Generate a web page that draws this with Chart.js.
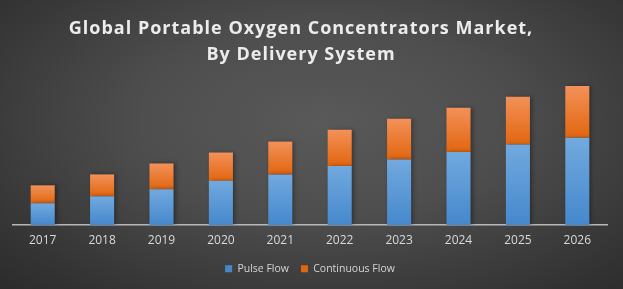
<!DOCTYPE html>
<html lang="en">
<head>
    <meta charset="UTF-8">
    <title>Portable Oxygen Concentrators Market</title>
    <script src="https://cdn.jsdelivr.net/npm/chart.js"></script>
    <style>
        html, body { margin: 0; padding: 0; }
        body {
            width: 623px;
            height: 289px;
            overflow: hidden;
            background: radial-gradient(ellipse at 52% 42%, #595959 0%, #4e4e4e 40%, #353535 82%, #2b2b2b 100%);
        }
        #wrap { width: 623px; height: 289px; position: relative; }
    </style>
</head>
<body>
    <div id="wrap"><canvas id="marketChart"></canvas></div>

    <script>
        const years = ['2017', '2018', '2019', '2020', '2021', '2022', '2023', '2024', '2025', '2026'];
        const pulseFlow = [22, 29, 36, 44.5, 51, 59.5, 66, 73.5, 81, 88];
        const continuousFlow = [18, 22, 26, 28.5, 33, 36.5, 41, 44.5, 48, 52];
        const titleLines = ['Global Portable Oxygen Concentrators Market,', 'By Delivery System'];

        // vertical gradient over one bar segment
        function segmentFill(ctx, light, dark) {
            const chart = ctx.chart;
            if (!chart.chartArea || ctx.dataIndex === undefined) return dark;
            const y = chart.scales.y;
            const i = ctx.dataIndex;
            let base = 0, top = pulseFlow[i];
            if (ctx.datasetIndex === 1) { base = pulseFlow[i]; top = pulseFlow[i] + continuousFlow[i]; }
            const g = chart.ctx.createLinearGradient(0, y.getPixelForValue(top), 0, y.getPixelForValue(base));
            g.addColorStop(0, light);
            g.addColorStop(1, dark);
            return g;
        }

        const blueFill = c => segmentFill(c, '#72a9df', '#4588cc');
        const orangeFill = c => segmentFill(c, '#f39159', '#e1660f');

        // title sits a bit left of centre and is letter-spaced, so draw it by hand
        const titlePlugin = {
            id: 'offsetTitle',
            afterDraw(chart) {
                const c = chart.ctx;
                c.save();
                c.fillStyle = '#ececec';
                c.font = 'bold 18px "Open Sans"';
                c.letterSpacing = '1px';
                c.textAlign = 'center';
                c.textBaseline = 'alphabetic';
                c.fillText(titleLines[0], 301, 34);
                c.fillText(titleLines[1], 301, 60);
                c.restore();
            }
        };

        const shadowPlugin = {
            id: 'barShadow',
            beforeDatasetsDraw(chart) {
                const c = chart.ctx;
                c.save();
                c.shadowColor = 'rgba(0,0,0,0.35)';
                c.shadowBlur = 4;
                c.shadowOffsetX = 2;
                c.shadowOffsetY = 0;
            },
            afterDatasetsDraw(chart) {
                chart.ctx.restore();
            }
        };

        new Chart(document.getElementById('marketChart'), {
            type: 'bar',
            data: {
                labels: years,
                datasets: [
                    { label: 'Pulse Flow', data: pulseFlow, backgroundColor: blueFill },
                    { label: 'Continuous Flow', data: continuousFlow, backgroundColor: orangeFill }
                ]
            },
            options: {
                responsive: true,
                maintainAspectRatio: false,
                animation: false,
                layout: { padding: { left: 13, right: 16, top: 76, bottom: 5 } },
                datasets: { bar: { categoryPercentage: 1, barPercentage: 0.405 } },
                scales: {
                    x: {
                        stacked: true,
                        grid: { display: false, drawTicks: false },
                        border: { color: '#b8b8b8', width: 1.5 },
                        ticks: { color: '#d9d9d9', font: { family: 'Open Sans', size: 12 }, padding: 8 },
                        // pull the legend a little closer to the year labels
                        afterFit(scale) { scale.height -= 4; }
                    },
                    y: {
                        stacked: true,
                        display: false,
                        min: 0,
                        max: 150
                    }
                },
                plugins: {
                    title: { display: false },
                    legend: {
                        position: 'bottom',
                        labels: {
                            color: '#d4d4d4',
                            boxWidth: 7,
                            boxHeight: 7,
                            padding: 12,
                            font: { family: 'Open Sans', size: 10.5 }
                        }
                    },
                    tooltip: { enabled: false }
                }
            },
            plugins: [titlePlugin, shadowPlugin]
        });
    </script>
</body>
</html>
